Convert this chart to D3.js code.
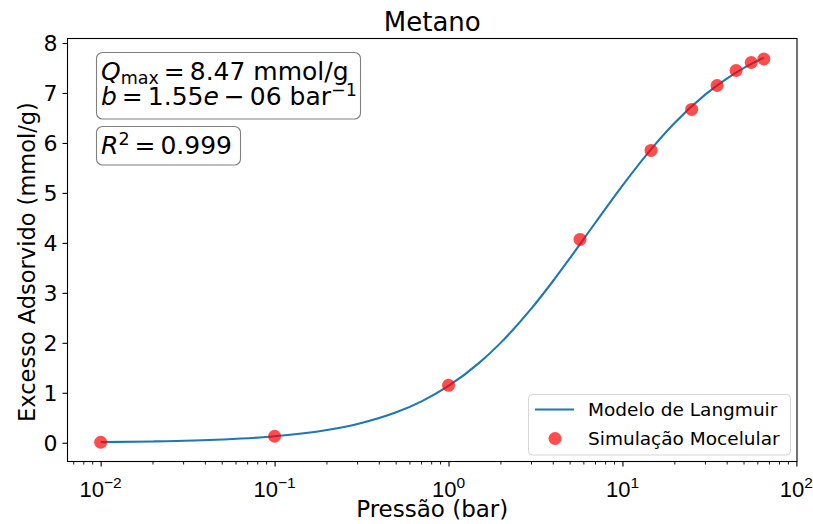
<!DOCTYPE html>
<html>
<head>
<meta charset="utf-8">
<script src="https://cdn.jsdelivr.net/npm/d3@7"></script>
<style>
  html, body { margin: 0; padding: 0; background: #fff; }
  svg { display: block; font-family: "DejaVu Sans", sans-serif; }
</style>
</head>
<body>
<svg id="chart" width="813" height="524"></svg>
<script>
// ---- data ----
const simPressure = [0.01, 0.1, 1, 5.7, 14.6, 25, 35, 45, 55, 65];
const simExcess   = [0.01, 0.13, 1.15, 4.07, 5.85, 6.67, 7.15, 7.45, 7.61, 7.68];

const modelPressure = [0.01, 0.02, 0.05, 0.1, 0.2, 0.3, 0.5, 0.7, 1, 1.5, 2, 3, 4, 5, 7, 10, 15, 20, 30, 40, 50, 65];
const modelExcess   = [0.013, 0.026, 0.065, 0.129, 0.255, 0.376, 0.609, 0.829, 1.137, 1.598, 2.004, 2.688, 3.242, 3.698, 4.408, 5.148, 5.922, 6.404, 6.971, 7.294, 7.502, 7.705];

const xTickValues = [0.01, 0.1, 1, 10, 100];
const xTickExponents = ["\u22122", "\u22121", "0", "1", "2"];
const yTickValues = [0, 1, 2, 3, 4, 5, 6, 7, 8];

const titleText = "Metano";
const xLabel = "Pressão (bar)";
const yLabel = "Excesso Adsorvido (mmol/g)";
const legendLabels = ["Modelo de Langmuir", "Simulação Mocelular"];

// ---- layout ----
const svg = d3.select("#chart");
const L = 67.5, R = 797, T = 38.5, B = 461.5;

const x = d3.scaleLog().domain([Math.pow(10, -2.1906), Math.pow(10, 2.0035)]).range([L, R]);
const y = d3.scaleLinear().domain([-0.375, 8.09]).range([B, T]);

const lineColor = "#1f77b4";
const dotColor = "rgba(255,0,0,0.7)";

svg.append("defs").append("clipPath").attr("id", "clip")
  .append("rect").attr("x", L).attr("y", T).attr("width", R - L).attr("height", B - T);

// model line
const line = d3.line().x((d, i) => x(modelPressure[i])).y((d, i) => y(modelExcess[i])).curve(d3.curveMonotoneX);
svg.append("path").datum(modelExcess)
  .attr("d", line).attr("fill", "none").attr("stroke", lineColor).attr("stroke-width", 2.1)
  .attr("clip-path", "url(#clip)");

// points
svg.append("g").selectAll("circle").data(simExcess).join("circle")
  .attr("cx", (d, i) => x(simPressure[i])).attr("cy", d => y(d)).attr("r", 6.5)
  .attr("fill", dotColor);

// axes frame
svg.append("rect").attr("x", L).attr("y", T).attr("width", R - L).attr("height", B - T)
  .attr("fill", "none").attr("stroke", "#000").attr("stroke-width", 1.1);

// x axis
const xAxisG = svg.append("g").attr("transform", `translate(0,${B})`);
xAxisG.call(d3.axisBottom(x).tickValues(xTickValues).tickSize(5).tickFormat(""));
xAxisG.select(".domain").remove();
xAxisG.selectAll(".tick line").attr("stroke", "#000").attr("stroke-width", 1.1);
const minorVals = [];
[0.001, 0.01, 0.1, 1, 10].forEach(dec => { for (let k = 2; k <= 9; k++) minorVals.push(dec * k); });
const minorIn = minorVals.filter(v => x(v) >= L - 0.1 && x(v) <= R + 0.1);
xAxisG.selectAll("line.minor").data(minorIn).join("line").attr("class", "minor")
  .attr("x1", d => x(d)).attr("x2", d => x(d)).attr("y1", 0).attr("y2", 3)
  .attr("stroke", "#000").attr("stroke-width", 0.9);
xAxisG.selectAll("text.tl").data(xTickValues).join("text").attr("class", "tl")
  .attr("x", d => x(d)).attr("y", 35).attr("text-anchor", "middle")
  .attr("font-size", 22).attr("fill", "#000")
  .each(function(d, i) {
    const t = d3.select(this);
    t.append("tspan").text("10");
    t.append("tspan").attr("font-size", 15.5).attr("dy", -9).text(xTickExponents[i]);
  });

// y axis
const yAxisG = svg.append("g").attr("transform", `translate(${L},0)`);
yAxisG.call(d3.axisLeft(y).tickValues(yTickValues).tickSize(5).tickPadding(5).tickFormat(d3.format("d")));
yAxisG.select(".domain").remove();
yAxisG.selectAll(".tick line").attr("stroke", "#000").attr("stroke-width", 1.1);
yAxisG.selectAll(".tick text").attr("font-size", 22).attr("fill", "#000")
  .attr("font-family", "DejaVu Sans").attr("dy", "0.36em");

// title & labels
svg.append("text").attr("x", (L + R) / 2).attr("y", 31).attr("text-anchor", "middle")
  .attr("font-size", 26).attr("fill", "#000").text(titleText);
svg.append("text").attr("x", (L + R) / 2).attr("y", 517).attr("text-anchor", "middle")
  .attr("font-size", 23).attr("fill", "#000").text(xLabel);
svg.append("text").attr("transform", `translate(35,262) rotate(-90)`)
  .attr("text-anchor", "middle").attr("font-size", 22.5).attr("fill", "#000").text(yLabel);

// annotation boxes
function box(x0, y0, w, h) {
  svg.append("rect").attr("x", x0).attr("y", y0).attr("width", w).attr("height", h)
    .attr("rx", 6).attr("ry", 6).attr("fill", "rgba(255,255,255,0.8)")
    .attr("stroke", "#808080").attr("stroke-width", 1.1);
}
box(96.5, 52.5, 264, 66.5);
box(96.5, 126.5, 144, 38.5);

const fs = 25, ss = 17.5;
// two-line parameter block as one text element
const t1 = svg.append("text").attr("x", 101).attr("y", 80).attr("font-size", fs).attr("fill", "#000");
t1.append("tspan").attr("font-style", "italic").text("Q");
t1.append("tspan").attr("font-size", ss).attr("dy", 3.5).text("max");
t1.append("tspan").attr("dy", -3.5).text("\u2009=\u20098.47 mmol/g");
t1.append("tspan").attr("x", 101).attr("dy", 24.5).attr("font-style", "italic").text("b");
t1.append("tspan").text("\u2009=\u20091.55");
t1.append("tspan").attr("font-style", "italic").text("e");
t1.append("tspan").text("\u2009\u2212\u200906 bar");
t1.append("tspan").attr("font-size", ss).attr("dy", -9).text("\u22121");

const t3 = svg.append("text").attr("x", 101).attr("y", 154).attr("font-size", fs).attr("fill", "#000");
t3.append("tspan").attr("font-style", "italic").text("R");
t3.append("tspan").attr("font-size", ss).attr("dy", -9.5).text("2");
t3.append("tspan").attr("dy", 9.5).text("\u2009=\u20090.999");

// legend
const lg = svg.append("g");
lg.append("rect").attr("x", 528.5).attr("y", 394.5).attr("width", 262).attr("height", 60.5)
  .attr("rx", 4).attr("ry", 4).attr("fill", "rgba(255,255,255,0.8)")
  .attr("stroke", "#d6d6d6").attr("stroke-width", 1);
lg.append("line").attr("x1", 535).attr("x2", 574).attr("y1", 409.5).attr("y2", 409.5)
  .attr("stroke", lineColor).attr("stroke-width", 2.1);
lg.append("circle").attr("cx", 555).attr("cy", 438.5).attr("r", 6.5).attr("fill", dotColor);
lg.selectAll("text").data(legendLabels).join("text")
  .attr("x", 588).attr("y", (d, i) => 416 + i * 29).attr("font-size", 18.5).attr("fill", "#000")
  .text(d => d);
</script>
</body>
</html>
